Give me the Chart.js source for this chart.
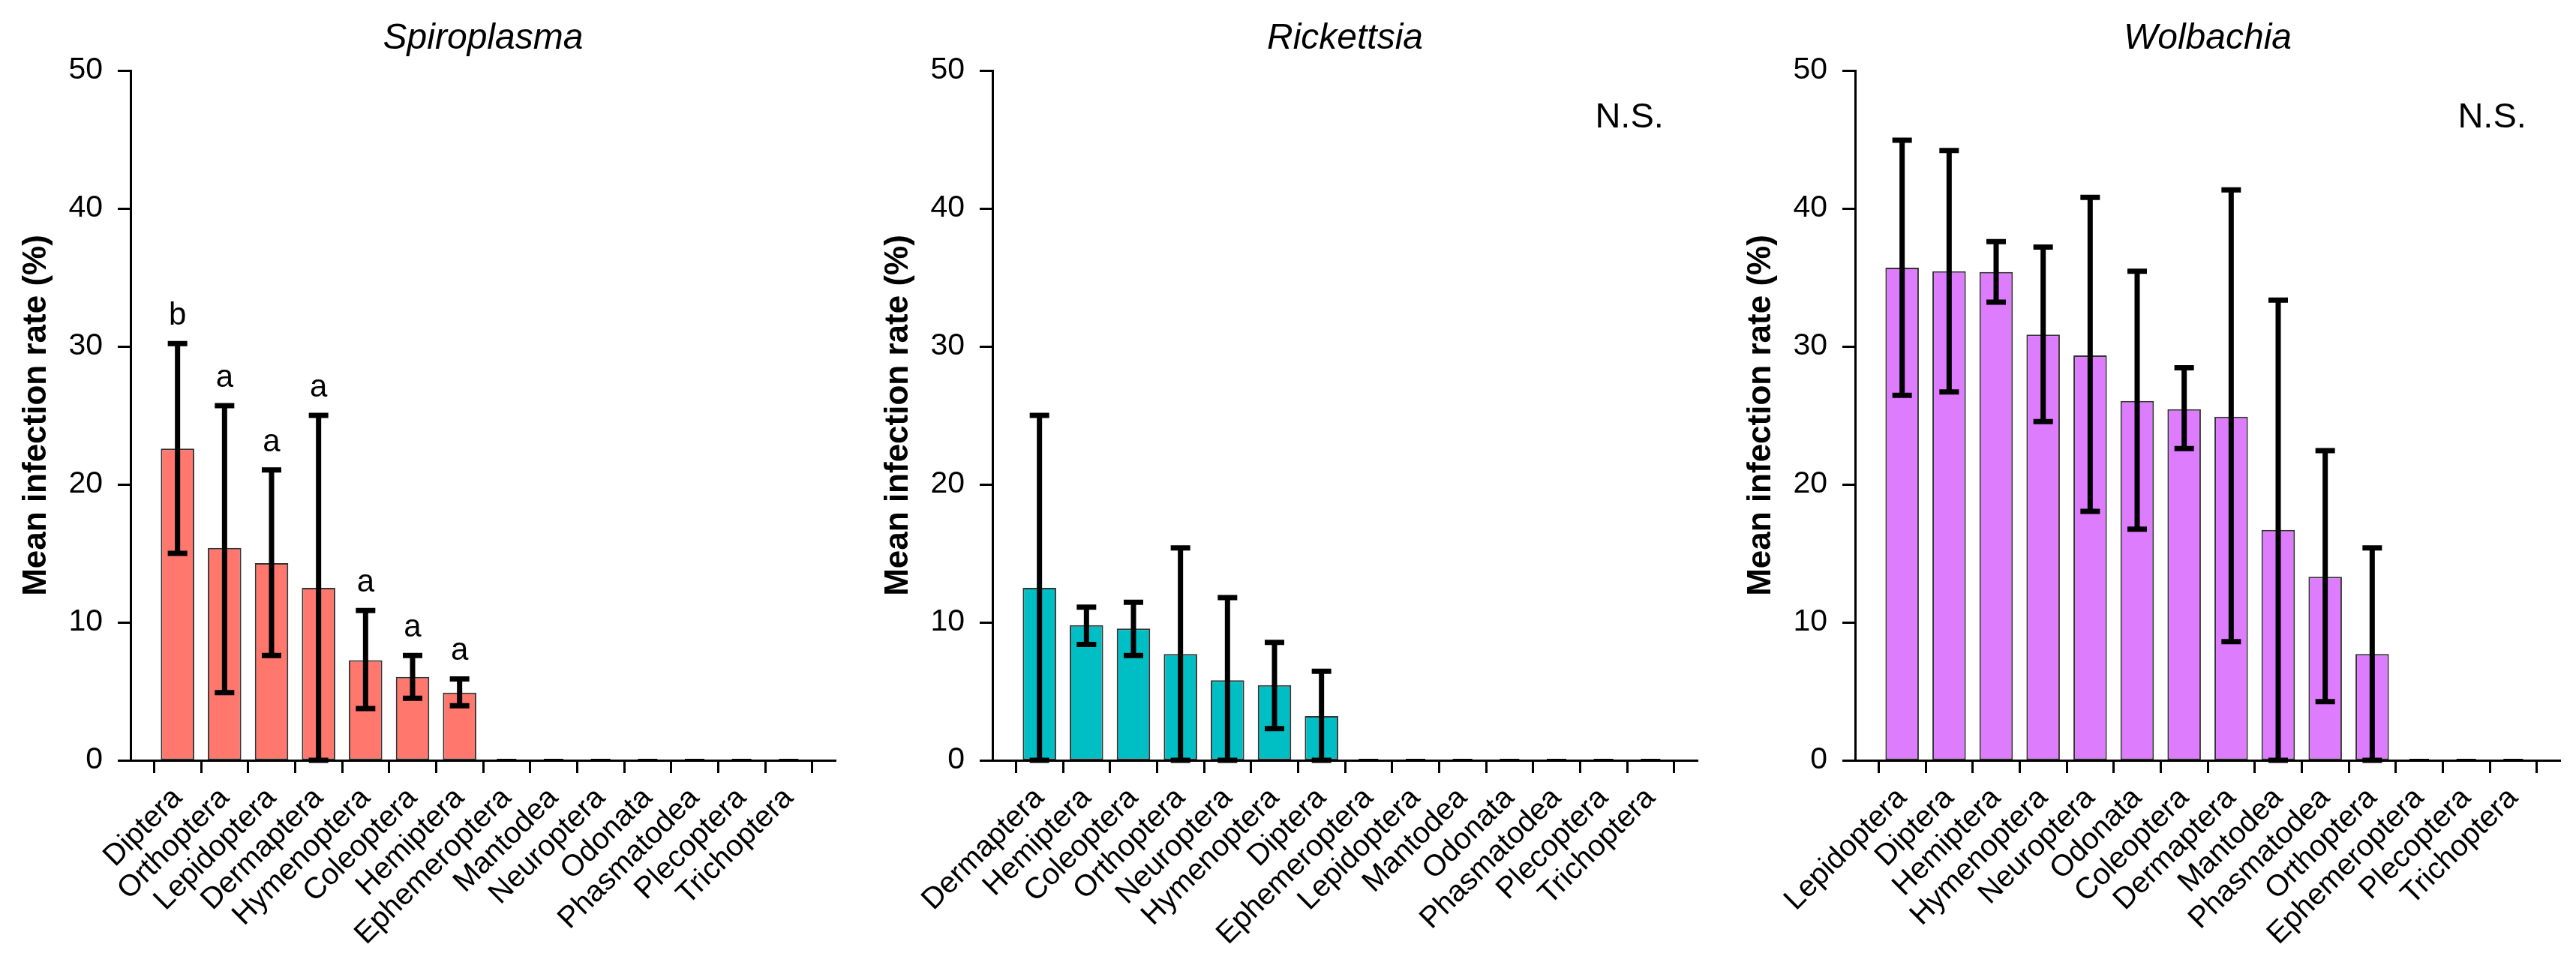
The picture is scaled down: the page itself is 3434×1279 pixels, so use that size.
<!DOCTYPE html>
<html>
<head>
<meta charset="utf-8">
<script src="https://cdn.jsdelivr.net/npm/chart.js@4.4.1/dist/chart.umd.min.js"></script>
<style>
  html, body { margin: 0; padding: 0; background: #ffffff; }
  #wrap { position: relative; width: 3434px; height: 1279px; overflow: hidden; background: #fff; }
  canvas { position: absolute; top: 0; }
</style>
</head>
<body>
<div id="wrap">
  <canvas id="c1" width="1149" height="1279" style="left:0px"></canvas>
  <canvas id="c2" width="1150" height="1279" style="left:1149px"></canvas>
  <canvas id="c3" width="1135" height="1279" style="left:2299px"></canvas>
</div>
<script>
// ---------------- DATA ----------------
const yTicks = [0, 10, 20, 30, 40, 50];

const spiroTitle = 'Spiroplasma';
const spiroCats = ['Diptera','Orthoptera','Lepidoptera','Dermaptera','Hymenoptera','Coleoptera','Hemiptera','Ephemeroptera','Mantodea','Neuroptera','Odonata','Phasmatodea','Plecoptera','Trichoptera'];
const spiroMean = [22.6, 15.4, 14.3, 12.5, 7.25, 6.05, 4.9, 0, 0, 0, 0, 0, 0, 0];
const spiroLow  = [15.0, 4.9, 7.6, 0, 3.75, 4.5, 3.95, 0, 0, 0, 0, 0, 0, 0];
const spiroHigh = [30.2, 25.7, 21.05, 25.0, 10.85, 7.6, 5.9, 0, 0, 0, 0, 0, 0, 0];
const spiroLetters = ['b','a','a','a','a','a','a','','','','','','',''];

const rickTitle = 'Rickettsia';
const rickCats = ['Dermaptera','Hemiptera','Coleoptera','Orthoptera','Neuroptera','Hymenoptera','Diptera','Ephemeroptera','Lepidoptera','Mantodea','Odonata','Phasmatodea','Plecoptera','Trichoptera'];
const rickMean = [12.5, 9.8, 9.55, 7.7, 5.8, 5.45, 3.2, 0, 0, 0, 0, 0, 0, 0];
const rickLow  = [0, 8.4, 7.6, 0, 0, 2.3, 0, 0, 0, 0, 0, 0, 0, 0];
const rickHigh = [25.0, 11.1, 11.45, 15.4, 11.8, 8.55, 6.45, 0, 0, 0, 0, 0, 0, 0];
const rickNote = 'N.S.';

const wolbTitle = 'Wolbachia';
const wolbCats = ['Lepidoptera','Diptera','Hemiptera','Hymenoptera','Neuroptera','Odonata','Coleoptera','Dermaptera','Mantodea','Phasmatodea','Orthoptera','Ephemeroptera','Plecoptera','Trichoptera'];
const wolbMean = [35.7, 35.45, 35.4, 30.85, 29.35, 26.05, 25.45, 24.9, 16.7, 13.3, 7.7, 0, 0, 0];
const wolbLow  = [26.45, 26.7, 33.2, 24.55, 18.05, 16.75, 22.6, 8.6, 0, 4.25, 0, 0, 0, 0];
const wolbHigh = [44.95, 44.2, 37.6, 37.2, 40.8, 35.45, 28.45, 41.35, 33.35, 22.45, 15.4, 0, 0, 0];
const wolbNote = 'N.S.';

const yTitle = 'Mean infection rate (%)';

// ---------------- STYLE ----------------
const FONT = "'Liberation Sans', Arial, Helvetica, sans-serif";
const AXIS_LEFT = 174;     // px inside canvas
const AREA_W = 940;
const AREA_TOP = 94;
const X_AXIS_H = 265;

const annotPlugin = {
  id: 'annot',
  afterDatasetsDraw(chart, args, opts) {
    const ctx = chart.ctx;
    const xs = chart.scales.x, ys = chart.scales.y;
    const meta = chart.getDatasetMeta(0);
    ctx.save();
    // error bars
    ctx.strokeStyle = '#000';
    ctx.lineCap = 'butt';
    const capHalf = 13;
    opts.low.forEach((lo, i) => {
      const hi = opts.high[i];
      const x = meta.data[i].x;
      const yl = ys.getPixelForValue(lo);
      const yh = ys.getPixelForValue(hi);
      ctx.lineWidth = 7;
      if (hi > lo) {
        ctx.beginPath();
        ctx.moveTo(x, yl); ctx.lineTo(x, yh);
        ctx.stroke();
      }
      ctx.lineWidth = (hi === 0 && lo === 0) ? 4 : 7;
      ctx.beginPath();
      ctx.moveTo(x - capHalf, yh); ctx.lineTo(x + capHalf, yh);
      ctx.moveTo(x - capHalf, yl); ctx.lineTo(x + capHalf, yl);
      ctx.stroke();
    });
    // significance letters
    if (opts.letters) {
      ctx.fillStyle = '#000';
      ctx.font = `42px ${FONT}`;
      ctx.textAlign = 'center';
      ctx.textBaseline = 'alphabetic';
      opts.letters.forEach((l, i) => {
        if (!l) return;
        const x = meta.data[i].x;
        const y = ys.getPixelForValue(opts.high[i]) - 25;
        ctx.fillText(l, x, y);
      });
    }
    // N.S. note
    if (opts.note) {
      ctx.fillStyle = '#000';
      ctx.font = `47px ${FONT}`;
      ctx.textAlign = 'center';
      ctx.textBaseline = 'middle';
      ctx.fillText(opts.note, xs.getPixelForValue(12.55), ys.getPixelForValue(46.6));
    }
    // panel title
    const ca = chart.chartArea;
    ctx.fillStyle = '#000';
    ctx.font = `italic 48px ${FONT}`;
    ctx.textAlign = 'center';
    ctx.textBaseline = 'alphabetic';
    ctx.fillText(opts.title, (ca.left + ca.right) / 2, ca.top - 29);
    ctx.restore();
  }
};

function makeChart(id, cats, mean, low, high, color, title, letters, note) {
  const canvas = document.getElementById(id);
  const W = canvas.width;
  return new Chart(canvas, {
    type: 'bar',
    data: {
      datasets: [{
        data: mean.map((v, i) => ({ x: i, y: v })),
        backgroundColor: color,
        borderColor: '#333333',
        borderWidth: 2,
        borderSkipped: false,
        barPercentage: 0.9,
        categoryPercentage: 0.79
      }]
    },
    options: {
      responsive: false,
      devicePixelRatio: 1,
      animation: false,
      layout: { padding: { top: AREA_TOP, left: 0, right: W - AXIS_LEFT - AREA_W, bottom: 0 } },
      plugins: {
        legend: { display: false },
        tooltip: { enabled: false },
        title: { display: false },
        annot: { low, high, letters, note, title }
      },
      scales: {
        x: {
          type: 'linear',
          min: -1,
          max: 14,
          offset: false,
          afterBuildTicks(scale) { scale.ticks = cats.map((_, i) => ({ value: i })); },
          afterFit(scale) { scale.height = X_AXIS_H; },
          grid: { display: true, drawOnChartArea: false, drawTicks: true, tickLength: 17, tickWidth: 3, tickColor: '#000' },
          border: { display: true, color: '#000', width: 3 },
          ticks: {
            autoSkip: false,
            minRotation: 45,
            maxRotation: 45,
            padding: 10,
            color: '#000',
            font: { family: FONT, size: 40 },
            callback: (v) => cats[v] !== undefined ? cats[v] : ''
          }
        },
        y: {
          min: 0,
          max: 50,
          afterBuildTicks(scale) { scale.ticks = yTicks.map(v => ({ value: v })); },
          afterFit(scale) { scale.width = AXIS_LEFT; },
          grid: { display: true, drawOnChartArea: false, drawTicks: true, tickLength: 17, tickWidth: 3, tickColor: '#000' },
          border: { display: true, color: '#000', width: 3 },
          ticks: { padding: 20, color: '#000', font: { family: FONT, size: 41 } },
          title: {
            display: true,
            text: yTitle,
            color: '#000',
            font: { family: FONT, size: 44, weight: 'bold' },
            padding: { top: 22, bottom: 0 }
          }
        }
      }
    },
    plugins: [annotPlugin]
  });
}

makeChart('c1', spiroCats, spiroMean, spiroLow, spiroHigh, '#FF776D', spiroTitle, spiroLetters, null);
makeChart('c2', rickCats, rickMean, rickLow, rickHigh, '#00BFC4', rickTitle, null, rickNote);
makeChart('c3', wolbCats, wolbMean, wolbLow, wolbHigh, '#DD7CFD', wolbTitle, null, wolbNote);
</script>
</body>
</html>
